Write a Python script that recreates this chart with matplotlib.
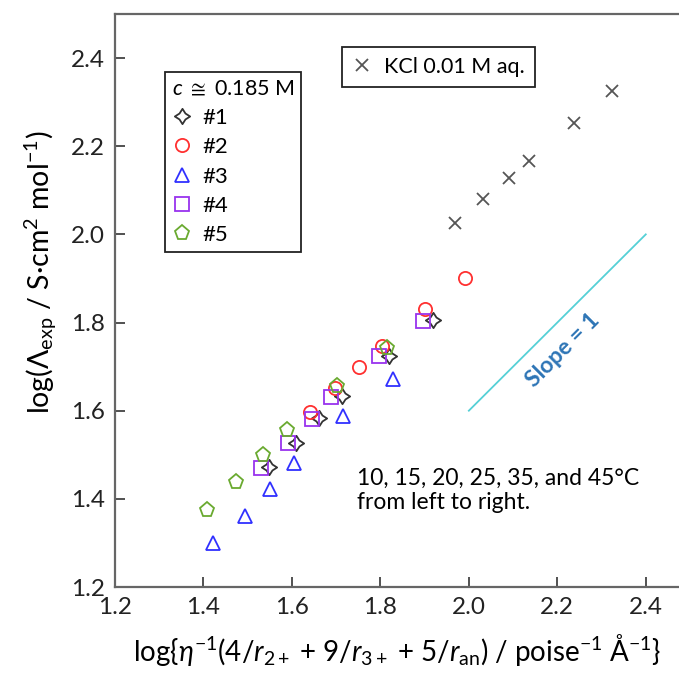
import numpy as np
import matplotlib.pyplot as plt
from matplotlib.path import Path

plt.rcParams['font.family'] = ['Lato', 'DejaVu Sans']
plt.rcParams['mathtext.fontset'] = 'custom'
plt.rcParams['mathtext.rm'] = 'Lato'
plt.rcParams['mathtext.it'] = 'Lato:italic'
plt.rcParams['mathtext.bf'] = 'Lato:bold'
plt.rcParams['mathtext.fallback'] = 'stixsans'

# datos (10, 15, 20, 25, 35, 45 C)
x_s1 = [1.548, 1.609, 1.662, 1.714, 1.820, 1.919]
y_s1 = [1.472, 1.527, 1.583, 1.633, 1.725, 1.805]

x_s2 = [1.642, 1.697, 1.752, 1.803, 1.900, 1.991]
y_s2 = [1.597, 1.652, 1.698, 1.746, 1.830, 1.902]

x_s3 = [1.421, 1.494, 1.550, 1.605, 1.716, 1.829]
y_s3 = [1.299, 1.361, 1.423, 1.481, 1.587, 1.673]

x_s4 = [1.529, 1.590, 1.645, 1.689, 1.797, 1.897]
y_s4 = [1.470, 1.527, 1.581, 1.631, 1.723, 1.803]

x_s5 = [1.407, 1.473, 1.535, 1.588, 1.701, 1.814]
y_s5 = [1.375, 1.439, 1.500, 1.557, 1.655, 1.742]

x_kcl = [1.968, 2.031, 2.090, 2.136, 2.237, 2.323]
y_kcl = [2.025, 2.080, 2.127, 2.167, 2.252, 2.326]

slope_x = [2.0, 2.4]
slope_y = [1.6, 2.0]

series_labels = ['#1', '#2', '#3', '#4', '#5']

# marcador de estrella de 4 puntas (rombo concavo)
star4 = Path.unit_regular_star(4, 0.55)

fig = plt.figure(figsize=(6.79, 6.75), dpi=100)
ax = fig.add_axes([115 / 679, 88 / 675, 575 / 679, 573 / 675])

common = dict(ls='none', mfc='none', mew=1.3)
h1, = ax.plot(x_s1, y_s1, marker=star4, ms=11, mec='#333333', label=series_labels[0], **common)
h2, = ax.plot(x_s2, y_s2, marker='o', ms=9.5, mec='#ff3030', label=series_labels[1], **common)
h3, = ax.plot(x_s3, y_s3, marker='^', ms=9.5, mec='#3030ff', label=series_labels[2], **common)
h4, = ax.plot(x_s4, y_s4, marker='s', ms=9.5, mec='#9933ee', label=series_labels[3], **common)
h5, = ax.plot(x_s5, y_s5, marker='p', ms=11, mec='#6aaa30', label=series_labels[4], **common)
hk, = ax.plot(x_kcl, y_kcl, ls='none', marker='x', ms=9, mew=1.3, color='#555555',
              label='KCl 0.01 M aq.')

ax.plot(slope_x, slope_y, color='#55d0d6', lw=1.3)
ax.text(2.212, 1.738, 'Slope = 1', rotation=45, ha='center', va='center',
        fontsize=16.5, fontweight='bold', color='#2e75b6')

ax.text(1.747, 1.47, '10, 15, 20, 25, 35, and 45°C\nfrom left to right.',
        ha='left', va='top', fontsize=16.5, linespacing=1.15, color='black')

ax.set_xlim(1.2, 2.5)
ax.set_ylim(1.2, 2.5)
ax.set_xticks(np.arange(1.2, 2.41, 0.2))
ax.set_yticks(np.arange(1.2, 2.41, 0.2))
ax.xaxis.set_major_formatter(plt.FormatStrFormatter('%.1f'))
ax.yaxis.set_major_formatter(plt.FormatStrFormatter('%.1f'))
ax.tick_params(direction='in', length=7, width=1.2, color='#333333',
               labelsize=17.5, pad=7, labelcolor='#222222')

for s in ax.spines.values():
    s.set_color('#666666')
    s.set_linewidth(1.6)

ax.set_xlabel(r'log{$\eta^{-1}$(4/$r_{2+}$ + 9/$r_{3+}$ + 5/$r_{\rm an}$) / poise$^{-1}$ Å$^{-1}$}',
              fontsize=20)
ax.set_ylabel(r'log($\Lambda_{\rm exp}$ / S·cm$^{2}$ mol$^{-1}$)', fontsize=20.5)
ax.xaxis.set_label_coords(0.49, -0.078)
ax.yaxis.set_label_coords(-0.097, 0.55)

leg1 = ax.legend(handles=[h1, h2, h3, h4, h5], title=r'$c$ $\cong$ 0.185 M',
                 loc='upper left', bbox_to_anchor=(0.087, 0.899), borderaxespad=0,
                 fontsize=16, title_fontsize=15.5, frameon=True, fancybox=False,
                 edgecolor='#222222', framealpha=1, handlelength=0.9,
                 handletextpad=0.5, labelspacing=0.42, borderpad=0.3,
                 alignment='left')
leg1.get_frame().set_linewidth(1.3)
ax.add_artist(leg1)

leg2 = ax.legend(handles=[hk], loc='upper left', bbox_to_anchor=(0.395, 0.942),
                 borderaxespad=0, fontsize=15.5, frameon=True, fancybox=False,
                 edgecolor='#222222', framealpha=1, handlelength=0.9,
                 handletextpad=0.6, borderpad=0.45)
leg2.get_frame().set_linewidth(1.3)

fig.savefig('out.png', dpi=100)
